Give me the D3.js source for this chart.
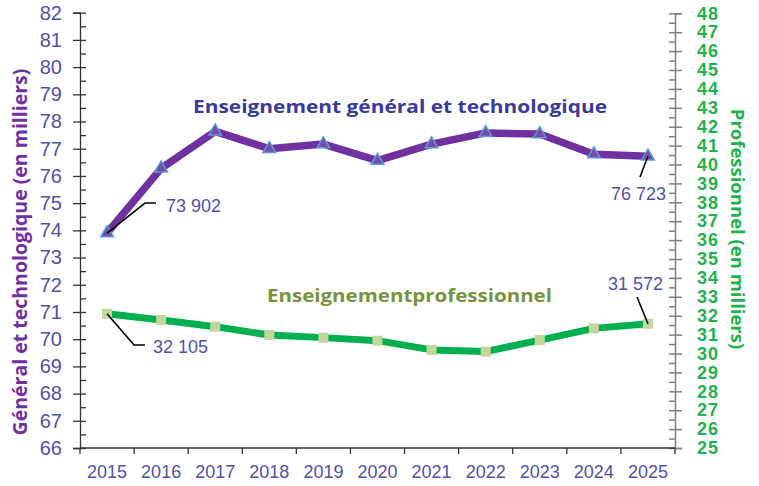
<!DOCTYPE html>
<html>
<head>
<meta charset="utf-8">
<script src="https://cdn.jsdelivr.net/npm/d3@7"></script>
<style>
  body { margin: 0; background: #fff; }
  svg text { font-family: "Liberation Sans", Arial, sans-serif; }
</style>
</head>
<body>
<svg id="chart" width="759" height="486"></svg>
<script>
// data (effectifs en milliers)
const years = ["2015", "2016", "2017", "2018", "2019", "2020", "2021", "2022", "2023", "2024", "2025"];
const generalTechno = [73.902, 76.28, 77.64, 77.0, 77.17, 76.56, 77.17, 77.58, 77.54, 76.8, 76.723];
const professionnel = [32.105, 31.77, 31.42, 30.98, 30.84, 30.68, 30.19, 30.1, 30.71, 31.33, 31.572];
const leftTicks = d3.range(66, 83);
const rightTicks = d3.range(25, 49);

const svg = d3.select("#chart");

const x = d3.scaleBand().domain(years).range([80, 675]);
const yL = d3.scaleLinear().domain([66, 82]).range([448, 12.7]);
const yR = d3.scaleLinear().domain([25, 48]).range([448, 13.3]);
const cx = d => x(d) + x.bandwidth() / 2;

const tickBlue = "#5151a9";

// left axis
const gL = svg.append("g").attr("transform", "translate(80,0)");
gL.call(d3.axisLeft(yL).tickValues(leftTicks).tickSize(7).tickPadding(11).tickFormat(d3.format("d")));
gL.selectAll(".tick line").attr("x1", 6);
gL.append("g").call(d3.axisRight(yL).tickValues(leftTicks.slice(0, -1).map(d => d + 0.5)).tickSize(6).tickFormat(""))
  .call(g => g.select(".domain").remove());
gL.selectAll("line, path").attr("stroke", "#333").attr("stroke-width", 1.3);
gL.selectAll("text").attr("fill", tickBlue).attr("font-size", 20);

// right axis
const gR = svg.append("g").attr("transform", "translate(675,0)");
gR.call(d3.axisRight(yR).tickValues(rightTicks).tickSize(7).tickPadding(15).tickFormat(d3.format("d")));
gR.selectAll(".tick line").attr("x1", -6);
gR.append("g").call(d3.axisLeft(yR).tickValues(rightTicks.slice(0, -1).map(d => d + 0.5)).tickSize(6).tickFormat(""))
  .call(g => g.select(".domain").remove());
gR.selectAll("line, path").attr("stroke", "#808080").attr("stroke-width", 1.5);
gR.selectAll("text").attr("fill", "#1fb24f").attr("font-size", 18).attr("font-weight", "bold")
  .attr("letter-spacing", 1);

// bottom axis
const gX = svg.append("g");
gX.append("line").attr("x1", 80).attr("x2", 675).attr("y1", 448).attr("y2", 448)
  .attr("stroke", "#333").attr("stroke-width", 1.3);
gX.selectAll(".xt").data(years.concat(["end"])).join("line")
  .attr("class", "xt")
  .attr("x1", d => d === "end" ? 675 : x(d)).attr("x2", d => d === "end" ? 675 : x(d))
  .attr("y1", 448).attr("y2", 454)
  .attr("stroke", "#333").attr("stroke-width", 1.3);
gX.selectAll(".xl").data(years).join("text")
  .attr("class", "xl")
  .attr("x", cx).attr("y", 478)
  .attr("text-anchor", "middle")
  .attr("fill", tickBlue).attr("font-size", 18)
  .text(d => d);

// axis titles
svg.append("text")
  .attr("transform", "translate(27,252) rotate(-90)")
  .attr("text-anchor", "middle")
  .attr("fill", "#7030a0").attr("font-size", 19.5).attr("font-weight", "bold")
  .style("font-family", "'Open Sans', sans-serif")
  .text("Général et technologique (en milliers)");
svg.append("text")
  .attr("transform", "translate(731,229) rotate(90)")
  .attr("text-anchor", "middle")
  .attr("fill", "#1fb24f").attr("font-size", 18.5).attr("font-weight", "bold")
  .style("font-family", "'Open Sans', sans-serif")
  .text("Professionnel (en milliers)");

// lines
const lineL = d3.line().x((d, i) => cx(years[i])).y(d => yL(d));
const lineR = d3.line().x((d, i) => cx(years[i])).y(d => yR(d));

svg.append("path").attr("d", lineR(professionnel))
  .attr("fill", "none").attr("stroke", "#00b050").attr("stroke-width", 7).attr("stroke-linejoin", "round");
svg.selectAll(".sq").data(professionnel).join("rect")
  .attr("class", "sq")
  .attr("x", (d, i) => cx(years[i]) - 5).attr("y", d => yR(d) - 5)
  .attr("width", 10).attr("height", 10)
  .attr("fill", "#c3d69b");

svg.append("path").attr("d", lineL(generalTechno))
  .attr("fill", "none").attr("stroke", "#7030a0").attr("stroke-width", 7.5).attr("stroke-linejoin", "round");
const tri = d3.symbol().type(d3.symbolTriangle).size(70);
svg.selectAll(".tri").data(generalTechno).join("path")
  .attr("class", "tri")
  .attr("transform", (d, i) => `translate(${cx(years[i])},${yL(d)})`)
  .attr("d", tri)
  .attr("fill", "#7a4aa8").attr("stroke", "#5b9bd5").attr("stroke-width", 1.5);

// series labels
svg.append("text")
  .attr("x", 193).attr("y", 113)
  .attr("fill", "#3a3a9a").attr("font-size", 18).attr("font-weight", "bold")
  .style("font-family", "'Open Sans', sans-serif")
  .attr("textLength", 414).attr("lengthAdjust", "spacingAndGlyphs")
  .text("Enseignement général et technologique");
svg.append("text")
  .attr("x", 267).attr("y", 302)
  .attr("fill", "#77933c").attr("font-size", 18).attr("font-weight", "bold")
  .style("font-family", "'Open Sans', sans-serif")
  .attr("textLength", 285).attr("lengthAdjust", "spacingAndGlyphs")
  .text("Enseignementprofessionnel");

// value callouts
const fmt = v => d3.format(",.0f")(v * 1000).replace(",", " ");
const last = years.length - 1;
const callouts = [
  { v: fmt(generalTechno[0]), px: cx(years[0]), py: yL(generalTechno[0]), pts: [[145, 203], [156, 203]], tx: 166, ty: 212, anchor: "start" },
  { v: fmt(professionnel[0]), px: cx(years[0]), py: yR(professionnel[0]), pts: [[134, 345], [145, 345]], tx: 153, ty: 353, anchor: "start" },
  { v: fmt(generalTechno[last]), px: cx(years[last]), py: yL(generalTechno[last]), pts: [[640, 177]], tx: 666, ty: 200, anchor: "end" },
  { v: fmt(professionnel[last]), px: cx(years[last]), py: yR(professionnel[last]), pts: [[637, 297]], tx: 663, ty: 290, anchor: "end" }
];
callouts.forEach(c => {
  svg.append("path")
    .attr("d", d3.line()([[c.px, c.py]].concat(c.pts)))
    .attr("fill", "none").attr("stroke", "#000").attr("stroke-width", 1.6);
  svg.append("text")
    .attr("x", c.tx).attr("y", c.ty)
    .attr("text-anchor", c.anchor)
    .attr("fill", tickBlue).attr("font-size", 18)
    .text(c.v);
});
</script>
</body>
</html>
